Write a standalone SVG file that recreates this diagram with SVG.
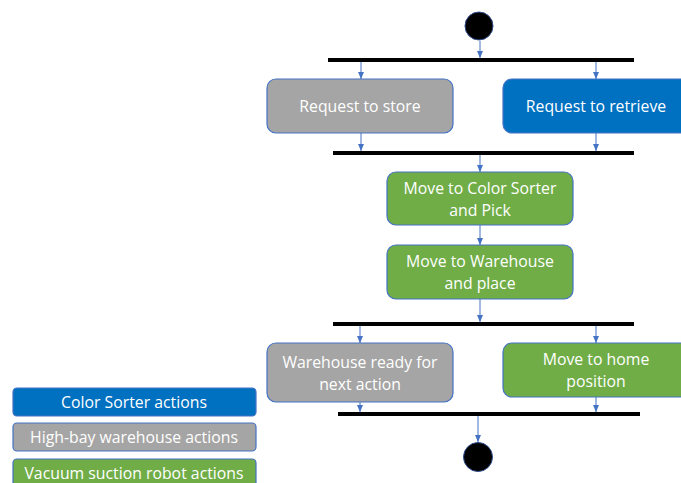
<svg xmlns="http://www.w3.org/2000/svg" width="681" height="483" viewBox="0 0 681 483">
<style>
.t{font-family:"Open Sans","Liberation Sans",sans-serif;font-size:15.8px;fill:#ffffff;text-anchor:middle}
.box{stroke:#4472c4;stroke-width:1.2}
.gray{fill:#a5a5a5}.blue{fill:#0070c0}.green{fill:#70ad47}
.bar{fill:#000}
.c{stroke:#4472c4;stroke-width:1;fill:none;marker-end:url(#ah)}
</style>
<defs>
<marker id="ah" markerWidth="8" markerHeight="8" refX="7" refY="4" orient="auto" markerUnits="userSpaceOnUse">
<path d="M0,1 L7,4 L0,7 Z" fill="#4472c4"/>
</marker>
</defs>
<rect width="681" height="483" fill="#fff"/>
<g id="start"><circle cx="479" cy="26" r="14" fill="#000" stroke="#2f4f8f" stroke-width="1"/></g>
<g id="fork1"><rect class="bar" x="328" y="58" width="306" height="4"/></g>
<g id="join1"><rect class="bar" x="333" y="151" width="301" height="4"/></g>
<g id="fork2"><rect class="bar" x="333" y="322" width="301" height="4"/></g>
<g id="join2"><rect class="bar" x="338" y="412" width="302" height="4"/></g>
<g id="end"><circle cx="478" cy="457" r="14.5" fill="#000" stroke="#2f4f8f" stroke-width="1"/></g>
<g id="store"><rect class="box gray" x="267" y="79" width="186" height="54" rx="9"/><text class="t" x="360" y="112">Request to store</text></g>
<g id="retrieve"><rect class="box blue" x="503" y="79" width="190" height="54" rx="9"/><text class="t" x="596" y="112">Request to retrieve</text></g>
<g id="pick"><rect class="box green" x="387" y="172" width="186" height="53" rx="9"/><text class="t" x="480" y="194">Move to Color Sorter</text><text class="t" x="480" y="216">and Pick</text></g>
<g id="place"><rect class="box green" x="387" y="245" width="186" height="54" rx="9"/><text class="t" x="480" y="267">Move to Warehouse</text><text class="t" x="480" y="289">and place</text></g>
<g id="ready"><rect class="box gray" x="267" y="343" width="186" height="59" rx="9"/><text class="t" x="360" y="368">Warehouse ready for</text><text class="t" x="360" y="390">next action</text></g>
<g id="home"><rect class="box green" x="503" y="343" width="190" height="54" rx="9"/><text class="t" x="596" y="365">Move to home</text><text class="t" x="596" y="387">position</text></g>
<g id="legend-cs"><rect class="box blue" x="13" y="388" width="243" height="28" rx="4"/><text class="t" x="134" y="408">Color Sorter actions</text></g>
<g id="legend-hb"><rect class="box gray" x="13" y="423" width="243" height="28" rx="4"/><text class="t" x="134" y="443">High-bay warehouse actions</text></g>
<g id="legend-vs"><rect class="box green" x="13" y="459" width="243" height="30" rx="4"/><text class="t" x="134" y="479">Vacuum suction robot actions</text></g>
<g id="connectors">
<path class="c" d="M480,41 V58"/>
<path class="c" d="M361,62 V79"/>
<path class="c" d="M596,62 V79"/>
<path class="c" d="M361,133 V151"/>
<path class="c" d="M596,133 V151"/>
<path class="c" d="M480,155 V172"/>
<path class="c" d="M480,225 V245"/>
<path class="c" d="M480,299 V322"/>
<path class="c" d="M360,326 V343"/>
<path class="c" d="M596,326 V343"/>
<path class="c" d="M360,402 V412"/>
<path class="c" d="M596,397 V412"/>
<path class="c" d="M478,416 V442"/>
</g>
</svg>
